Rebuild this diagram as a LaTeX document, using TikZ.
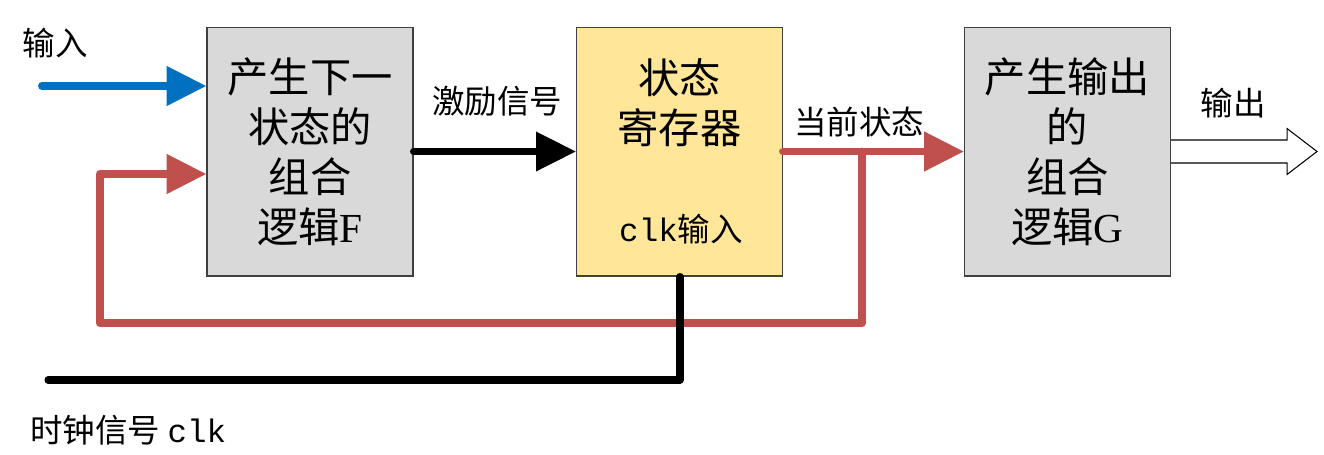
\documentclass[tikz,border=0pt]{standalone}
\usepackage{fontspec}
\setmainfont{Liberation Serif}
\setmonofont{Liberation Mono}
\newfontfamily\cjk{Noto Sans CJK SC}
\usetikzlibrary{arrows.meta}
\definecolor{boxgray}{HTML}{D9D9D9}
\definecolor{regyellow}{HTML}{FFE699}
\definecolor{inblue}{HTML}{0070C0}
\definecolor{statered}{HTML}{C0504D}
\definecolor{edgegray}{HTML}{404040}
\tikzset{
  blockbox/.style={draw=edgegray, line width=0.6pt, minimum width=4.12cm, minimum height=4.98cm, inner sep=0pt, align=center,
     font=\cjk\fontsize{23.5}{28.45}\selectfont},
  lbl/.style={font=\cjk\fontsize{18.5}{22}\selectfont, inner sep=0pt},
  tip/.style={-{Triangle[length=0.8cm,width=0.76cm]}},
  blueline/.style={draw=inblue, line width=4.5pt, line cap=round, tip},
  redline/.style={draw=statered, line width=4.5pt, line cap=round, line join=round},
  blackline/.style={draw=black, line width=4pt, line cap=round, line join=round},
}
\begin{document}
\begin{tikzpicture}[x=0.02cm,y=-0.02cm]
\useasboundingbox (0,0) rectangle (1324,454);
% blocks
\node[blockbox, fill=boxgray] (F) at (310,151.5) {产生下一\\状态的\\组合\\逻辑{\rmfamily F}};
\node[blockbox, fill=regyellow] (R) at (679.5,151.5) {};
\node[blockbox, fill=boxgray] (G) at (1067.5,151.5) {产生输出\\的\\组合\\逻辑{\rmfamily G}};
\node[font=\cjk\fontsize{23.5}{28.45}\selectfont, align=center, inner sep=0pt] (Rt) at (679.5,103) {状态\\寄存器};
\node[lbl] (Rclk) at (681,229) {{\ttfamily clk}输入};
% labels
\node[lbl] (Lin) at (55,43) {输入};
\node[lbl] (Lexc) at (497,101) {激励信号};
\node[lbl] (Lcur) at (859,122) {当前状态};
\node[lbl] (Lout) at (1233,103) {输出};
\node[lbl, anchor=west] (Lclk) at (30,430) {时钟信号 {\ttfamily clk}};
% coordinates
\coordinate (inS) at (42,86);
\coordinate (br) at (862,151.5);
\coordinate (c1) at (862,323);
\coordinate (c2) at (100,323);
\coordinate (c3) at (100,174);
\coordinate (k1) at (680,380);
\coordinate (k2) at (48,380);
% connectors
\draw[blueline] (inS) -- (inS -| F.west);
\draw[blackline, tip] (F.east) -- (R.west);
\draw[redline, tip] (R.east) -- (G.west);
\draw[redline, tip] (br) -- (c1) -- (c2) -- (c3) -- (c3 -| F.west);
\draw[blackline] (k1 |- R.south) -- (k1) -- (k2);
\draw[draw=black, line width=0.6pt, fill=white] (G.east) ++(0,-11.5) -- ++(116,0) -- ++(0,-11.5) -- ++(30,23) -- ++(-30,23) -- ++(0,-11.5) -- ++(-116,0);
\end{tikzpicture}
\end{document}
